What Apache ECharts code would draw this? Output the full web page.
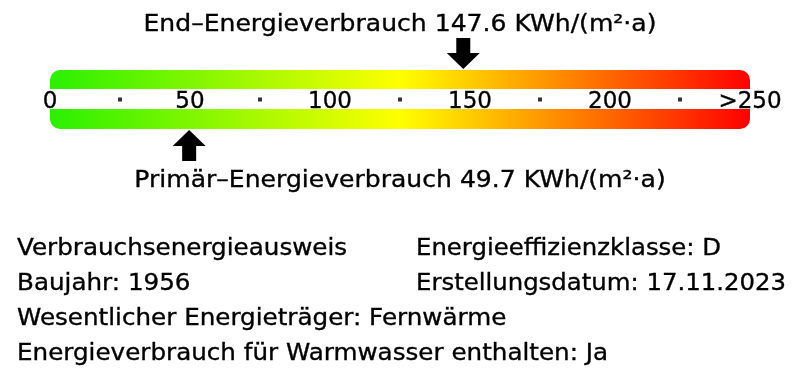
<!DOCTYPE html>
<html>
<head>
<meta charset="utf-8">
<script src="https://cdn.jsdelivr.net/npm/echarts@6/dist/echarts.min.js"></script>
<style>
html,body{margin:0;padding:0;background:#fff;}
#chart{width:800px;height:380px;}
</style>
</head>
<body>
<div id="chart"></div>
<script>
// ---- data ----
const scaleMin = 0;
const scaleMax = 250;
const tickValues = [0, 50, 100, 150, 200, 250];
const tickLabels = ['0', '50', '100', '150', '200', '>250'];
const dotValues = [25, 75, 125, 175, 225];
const endValue = 147.6;
const primaryValue = 49.7;
const unit = 'KWh/(m²·a)';
const endTitle = 'End–Energieverbrauch';
const primaryTitle = 'Primär–Energieverbrauch';
const infoLeft = [
  'Verbrauchsenergieausweis',
  'Baujahr: 1956',
  'Wesentlicher Energieträger: Fernwärme',
  'Energieverbrauch für Warmwasser enthalten: Ja'
];
const infoRight = [
  'Energieeffizienzklasse: D',
  'Erstellungsdatum: 17.11.2023'
];

// ---- styles ----
const FONT = 'DejaVu Sans';
const FS = 23;
const SX_TITLE = 1.09;
const SX_INFO = 1.07;
const SX_INFO_R = 1.06;
const rowY = [249, 284, 319, 354];

const chart = echarts.init(document.getElementById('chart'), null, {renderer: 'canvas'});

function arrowPoints(cx, tipY, dir) {
  // dir = 1: pointing down (tip below), dir = -1: pointing up
  const headH = 16, stemH = 15, headW = 16.5, stemW = 7;
  const b = tipY - dir * headH;
  const s = tipY - dir * (headH + stemH);
  return [[cx - stemW, s], [cx + stemW, s], [cx + stemW, b], [cx + headW, b],
          [cx, tipY], [cx - headW, b], [cx - stemW, b]];
}

function txt(x, y, text, align, sx) {
  return {
    type: 'text', x: x, y: y, scaleX: sx,
    style: {text: text, font: FS + 'px "' + FONT + '"', fill: '#000',
            stroke: '#000', lineWidth: 0.35,
            align: align, verticalAlign: 'middle'}
  };
}

const graphics = [];
graphics.push(txt(400, 25, endTitle + ' ' + endValue.toFixed(1) + ' ' + unit, 'center', SX_TITLE));
graphics.push(txt(400, 181, primaryTitle + ' ' + primaryValue.toFixed(1) + ' ' + unit, 'center', SX_TITLE));
infoLeft.forEach((t, i) => graphics.push(txt(17, rowY[i], t, 'left', SX_INFO)));
infoRight.forEach((t, i) => graphics.push(txt(416, rowY[i], t, 'left', SX_INFO_R)));

const option = {
  animation: false,
  backgroundColor: '#fff',
  grid: {left: 50, right: 50, top: 70, height: 59, outerBoundsMode: 'none'},
  xAxis: {
    type: 'value', min: scaleMin, max: scaleMax, interval: 50,
    axisLine: {show: false}, axisTick: {show: false}, splitLine: {show: false},
    axisLabel: {
      show: true, showMinLabel: true, showMaxLabel: true, hideOverlap: false,
      margin: -27, verticalAlign: 'middle', color: '#000',
      fontFamily: FONT, fontSize: 23,
      textBorderColor: '#000', textBorderWidth: 0.35,
      formatter: v => { const i = tickValues.indexOf(v); return i >= 0 ? tickLabels[i] : ''; }
    },
    z: 10
  },
  yAxis: {type: 'value', min: 0, max: 1, show: false},
  series: [
    {
      type: 'custom', z: 1,
      data: [[scaleMin, scaleMax]],
      renderItem: (params, api) => {
        const p0 = api.coord([api.value(0), 1]);
        const p1 = api.coord([api.value(1), 0]);
        const w = p1[0] - p0[0], h = p1[1] - p0[1];
        const grad = new echarts.graphic.LinearGradient(0, 0, 1, 0, [
          {offset: 0, color: '#2af000'},
          {offset: 0.5, color: '#ffff00'},
          {offset: 1, color: '#ff0000'}
        ]);
        return {
          type: 'group',
          children: [
            {type: 'rect', shape: {x: p0[0], y: p0[1], width: w, height: h, r: 10}, style: {fill: grad}},
            {type: 'rect', shape: {x: p0[0], y: p0[1] + h * 0.322, width: w, height: h * 0.339}, style: {fill: '#fff'}}
          ]
        };
      }
    },
    {
      type: 'scatter', z: 5,
      data: dotValues.map(v => [v, 0.5]),
      symbol: 'rect', symbolSize: 4,
      itemStyle: {color: '#000'},
      silent: true
    },
    {
      type: 'custom', z: 6,
      data: [[endValue]],
      renderItem: (params, api) => {
        const p = api.coord([api.value(0), 1]);
        return {type: 'polygon', shape: {points: arrowPoints(p[0], p[1] - 1, 1)}, style: {fill: '#000'}};
      }
    },
    {
      type: 'custom', z: 6,
      data: [[primaryValue]],
      renderItem: (params, api) => {
        const p = api.coord([api.value(0), 0]);
        return {type: 'polygon', shape: {points: arrowPoints(p[0], p[1] + 1, -1)}, style: {fill: '#000'}};
      }
    }
  ],
  graphic: graphics
};
chart.setOption(option);
</script>
</body>
</html>
